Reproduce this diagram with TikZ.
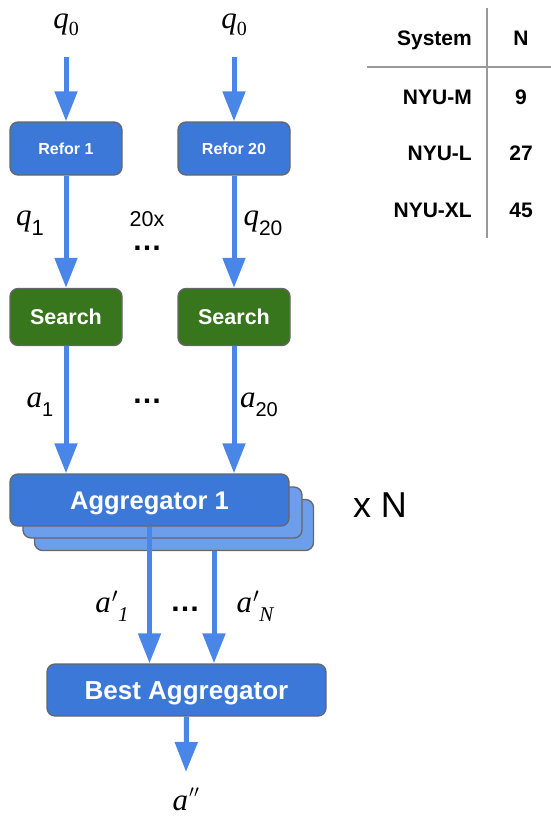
\documentclass[tikz,border=0pt]{standalone}
\usepackage{fontspec}
\setmainfont{Liberation Serif}
\newfontfamily\arialf{Liberation Sans}
\usetikzlibrary{arrows.meta,calc}
\definecolor{arrowblue}{HTML}{4A86E8}
\definecolor{boxblue}{HTML}{3C78D8}
\definecolor{shadowblue}{HTML}{6D9EEB}
\definecolor{searchgreen}{HTML}{38761D}
\definecolor{boxborder}{HTML}{666666}
\definecolor{tablegray}{HTML}{999999}
\newcommand\fsz[1]{\fontsize{#1}{#1}\selectfont}
\tikzset{
  arr/.style={draw=arrowblue, line width=5pt, -{Triangle[width=22pt,length=30pt,fill=arrowblue]}},
  boxbase/.style={draw=boxborder, line width=1.3pt, rounded corners=8pt, inner sep=0pt, text=white, font=\arialf\bfseries},
  smallbox/.style={boxbase, fill=boxblue, minimum width=112pt, minimum height=53pt},
  greenbox/.style={boxbase, fill=searchgreen, minimum width=112pt, minimum height=57pt},
  bigbox/.style={boxbase, fill=boxblue, minimum width=279pt, minimum height=52pt, text height=18.5pt, text depth=0pt},
  shbox/.style={boxbase, fill=shadowblue, minimum width=279pt, minimum height=51pt},
  mlab/.style={anchor=base, inner sep=0pt},
  dots/.style={mlab, font=\arialf\bfseries\fsz{30}, text height=5pt, text depth=0pt},
  tab/.style={font=\arialf\bfseries\fsz{21}, inner sep=0pt, anchor=base},
}
\begin{document}
\begin{tikzpicture}[x=1pt,y=-1pt]
\useasboundingbox (0,0) rectangle (551,817);

% top labels
\node[mlab] (q0a) at (66,28) {\fsz{31}\itshape q\/\upshape\raisebox{-7pt}{\fsz{20}0}};
\node[mlab] (q0b) at (234,28) {\fsz{31}\itshape q\/\upshape\raisebox{-7pt}{\fsz{20}0}};
\coordinate (s0a) at (66,57);
\coordinate (s0b) at (234,57);

% refor boxes
\node[smallbox, font=\arialf\bfseries\fsz{16}] (r1) at (66,148.5) {Refor 1};
\node[smallbox, font=\arialf\bfseries\fsz{16}] (r20) at (234,148.5) {Refor 20};

% search boxes
\node[greenbox, font=\arialf\bfseries\fsz{21.5}] (se1) at (66,317) {Search};
\node[greenbox, font=\arialf\bfseries\fsz{21.5}] (se20) at (234,317) {Search};

% aggregator stack
\node[shbox] (sh2) at (174,525) {};
\node[shbox] (sh1) at (162.5,512.5) {};
\node[bigbox, font=\arialf\bfseries\fsz{25.5}] (agg) at (149.5,500) {Aggregator 1};
\node[anchor=base, inner sep=0pt, font=\arialf\fsz{36}] (xn) at (380,517) {x N};

% best aggregator
\node[bigbox, font=\arialf\bfseries\fsz{26}] (best) at (186.5,690) {Best Aggregator};
\coordinate (aend) at (186,772);
\node[mlab] (app) at (186,810) {\fsz{31}\itshape a\/\upshape\kern1pt\raisebox{3pt}{\fsz{24}\textit{$''$}}};

% arrows
\draw[arr] (s0a) -- (r1.north);
\draw[arr] (s0b) -- (r20.north);
\draw[arr] (r1.south) -- (se1.north);
\draw[arr] (r20.south) -- (se20.north);
\draw[arr] (se1.south) -- (se1.south |- agg.north);
\draw[arr] (se20.south) -- (se20.south |- agg.north);
\draw[arr] (agg.south) -- (agg.south |- best.north);
\coordinate (agr) at ($(sh2.south)+(40,0)$);
\draw[arr] (agr) -- (agr |- best.north);
\draw[arr] (best.south) -- (aend);

% middle labels
\node[mlab] (q1) at (30,225) {\fsz{31}\itshape q\/\upshape\raisebox{-10pt}{\arialf\fsz{22}1}};
\node[mlab] (q20) at (263,225) {\fsz{31}\itshape q\/\upshape\raisebox{-10pt}{\arialf\fsz{21}20}};
\node[mlab, font=\arialf\fsz{21.5}, text depth=0pt] (twx) at (147,226) {20x};
\node[dots] (d1) at (147,250) {…};

\node[mlab] (a1) at (40,407) {\fsz{31}\itshape a\/\upshape\raisebox{-9pt}{\arialf\fsz{20}1}};
\node[mlab] (a20) at (259,407) {\fsz{31}\itshape a\/\upshape\raisebox{-9pt}{\arialf\fsz{20}20}};
\node[dots] (d2) at (147,403) {…};

\node[mlab] (ap1) at (112,612) {\fsz{31}\itshape a\/\kern1pt\raisebox{0pt}{$'$}\raisebox{-9pt}{\fsz{21}1}};
\node[mlab] (apn) at (255,612) {\fsz{31}\itshape a\/\kern1pt\raisebox{0pt}{$'$}\raisebox{-9pt}{\fsz{21}N}};
\node[dots] (d3) at (185,611) {…};

% table
\coordinate (tv1) at (487,8);
\coordinate (tv2) at (487,238);
\coordinate (th1) at (367,67);
\coordinate (th2) at (551,67);
\draw[tablegray, line width=1.5pt] (tv1) -- (tv2);
\draw[tablegray, line width=1.5pt] (th1) -- (th2);
\node[tab, anchor=base east] (tsys) at (472,45) {System};
\node[tab] (tn) at (521,45) {N};
\node[tab, anchor=base east] (tm) at (472,104) {NYU-M};
\node[tab] (tm9) at (521,104) {9};
\node[tab, anchor=base east] (tl) at (472,160) {NYU-L};
\node[tab] (tl27) at (521,160) {27};
\node[tab, anchor=base east] (txl) at (472,217) {NYU-XL};
\node[tab] (txl45) at (521,217) {45};
\end{tikzpicture}
\end{document}
